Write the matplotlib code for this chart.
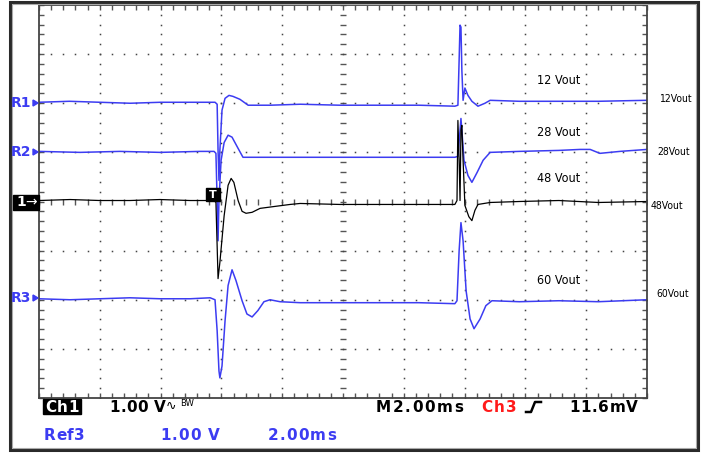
import numpy as np
import matplotlib
matplotlib.use('Agg')
import matplotlib.pyplot as plt
from matplotlib.patches import Rectangle

# ---- trace data: time in ms (2 ms/div), screen level in V (1 V/div)
r1_t = [0, 1.0, 2.0, 3.0, 4.0, 5.0, 5.79, 5.86, 5.89, 5.92, 5.95, 6.02, 6.12, 6.25, 6.38, 6.61, 6.88,
        7.6, 8.6, 9.9, 11.2, 12.5, 13.68, 13.78, 13.82, 13.85, 13.88, 13.91, 13.95, 14.01, 14.11,
        14.24, 14.44, 14.67, 14.84, 15.8, 17.1, 18.4, 20.0]
r1_v = [2.02, 2.04, 2.02, 2.0, 2.02, 2.02, 2.02, 1.98, 1.04, 0.43, 1.04, 1.86, 2.10, 2.16, 2.14, 2.08, 1.96,
        1.96, 1.98, 1.96, 1.96, 1.96, 1.94, 1.96, 2.88, 3.59, 3.55, 2.67, 2.06, 2.31, 2.16,
        2.04, 1.94, 2.0, 2.06, 2.04, 2.04, 2.04, 2.06]

r2_t = [0, 1.35, 2.66, 3.98, 5.30, 5.76, 5.82, 5.86, 5.89, 5.92, 5.99, 6.09, 6.22, 6.35, 6.55, 6.71,
        7.6, 8.6, 9.9, 11.2, 12.5, 13.68, 13.78, 13.85, 13.88, 13.91, 13.98, 14.11, 14.24, 14.41,
        14.61, 14.84, 15.8, 17.1, 17.8, 18.13, 18.45, 19.11, 20.0]
r2_v = [1.02, 1.00, 1.02, 1.00, 1.02, 1.02, 0.98, 0.02, -0.80, 0.02, 0.84, 1.20, 1.35, 1.31, 1.08, 0.90,
        0.90, 0.90, 0.90, 0.90, 0.90, 0.90, 0.92, 1.45, 1.69, 1.45, 0.84, 0.53, 0.39, 0.59,
        0.84, 1.00, 1.02, 1.04, 1.06, 1.06, 0.98, 1.02, 1.06]

ch1_t = [0, 1.02, 2.01, 2.99, 3.98, 4.97, 5.76, 5.82, 5.89, 5.95, 6.09, 6.22, 6.32, 6.41, 6.55, 6.68,
         6.81, 7.01, 7.27, 7.76, 8.26, 8.59, 9.9, 11.2, 12.5, 13.68, 13.75, 13.78, 13.82, 13.85,
         13.88, 13.91, 13.95, 14.01, 14.14, 14.24, 14.34, 14.44, 14.84, 15.8, 17.1, 18.4, 20.0]
ch1_v = [0.02, 0.04, 0.02, 0.02, 0.04, 0.02, 0.02, -0.02, -1.57, -1.24, -0.29, 0.33, 0.47, 0.39, 0.02, -0.20,
         -0.24, -0.22, -0.14, -0.10, -0.06, -0.04, -0.06, -0.06, -0.06, -0.06, 0.02, 1.65, 0.84, 0.02,
         1.45, 1.55, 0.84, -0.08, -0.31, -0.39, -0.18, -0.06, -0.02, 0.0, 0.02, -0.02, 0.0]

r3_t = [0, 1.02, 2.01, 2.99, 3.98, 4.97, 5.63, 5.79, 5.86, 5.92, 5.95, 6.02, 6.12, 6.22, 6.35, 6.48,
        6.68, 6.84, 7.01, 7.20, 7.40, 7.60, 7.93, 8.59, 9.9, 11.2, 12.5, 13.68, 13.75, 13.82,
        13.88, 13.95, 14.05, 14.18, 14.31, 14.51, 14.70, 14.90, 15.8, 17.1, 18.4, 20.0]
r3_v = [-1.98, -2.00, -1.98, -1.96, -1.98, -1.98, -1.96, -2.00, -2.63, -3.45, -3.59, -3.35, -2.43, -1.71,
        -1.39, -1.61, -2.02, -2.29, -2.35, -2.22, -2.04, -2.00, -2.04, -2.06, -2.06, -2.06, -2.06,
        -2.08, -2.02, -1.00, -0.43, -0.80, -1.82, -2.39, -2.59, -2.39, -2.12, -2.02, -2.04, -2.02,
        -2.04, -2.00]

labels_in = ['12 Vout', '28 Vout', '48 Vout', '60 Vout']
labels_out = ['12Vout', '28Vout', '48Vout', '60Vout']

BLUE = '#3c3cf2'
W, H = 707, 453
fig = plt.figure(figsize=(W / 100, H / 100), dpi=100)
fig.patch.set_facecolor('white')

# screen area (pixel box 39..647 x 5..398)
ax = fig.add_axes([39 / W, 1 - 398 / H, 608 / W, 393 / H])
ax.set_xlim(0, 20)
ax.set_ylim(-4, 4)
for s in ax.spines.values():
    s.set_color('#444444')
    s.set_linewidth(1.3)
ax.set_xticks(np.arange(0, 20.01, 2))
ax.set_yticks(np.arange(-4, 4.01, 1))
ax.set_xticks(np.arange(0, 20.01, 0.4), minor=True)
ax.set_yticks(np.arange(-4, 4.01, 0.2), minor=True)
ax.tick_params(which='both', direction='in', top=True, right=True, length=3.5,
               width=1, color='#555555', labelbottom=False, labelleft=False)

# graticule dots
ydots = np.arange(-4, 4.01, 0.2)
xdots = np.arange(0, 20.01, 0.4)
for gx in np.arange(2, 19, 2):
    if gx == 10:
        ax.plot(np.full_like(ydots, gx), ydots, ls='none', marker='_', ms=5, mew=1, color='#555555')
    else:
        ax.plot(np.full_like(ydots, gx), ydots, ls='none', marker='s', ms=1.1, mew=0, color='#444444')
for gy in np.arange(-3, 4, 1):
    if gy == 0:
        ax.plot(xdots, np.zeros_like(xdots), ls='none', marker='|', ms=5, mew=1, color='#555555')
    else:
        ax.plot(xdots, np.full_like(xdots, gy), ls='none', marker='s', ms=1.1, mew=0, color='#444444')

ax.plot(r1_t, r1_v, color=BLUE, lw=1.1)
ax.plot(r2_t, r2_v, color=BLUE, lw=1.1)
ax.plot(r3_t, r3_v, color=BLUE, lw=1.1)
ax.plot(ch1_t, ch1_v, color='black', lw=0.9)

# overlay in pixel coordinates for the frame and the readouts
ov = fig.add_axes([0, 0, 1, 1])
ov.set_xlim(0, W)
ov.set_ylim(H, 0)
ov.axis('off')
ov.set_zorder(5)
ov.add_patch(Rectangle((10, 2), 688, 448, fill=False, ec='#2a2a2a', lw=2.2))
ov.add_patch(Rectangle((12, 4), 684, 444, fill=False, ec='#aaaaaa', lw=0.8))

rend = fig.canvas.get_renderer()


def adv(c, **kw):
    # advance width of one character, measured between two bars
    a = ov.text(0, 0, '|' + c + '|', **kw)
    b = ov.text(0, 0, '||', **kw)
    w = a.get_window_extent(rend).width - b.get_window_extent(rend).width
    a.remove()
    b.remove()
    return w


def spaced(x0, x1, y, s, **kw):
    ws = [adv(c, **kw) for c in s]
    gap = (x1 - x0 - sum(ws)) / max(len(s) - 1, 1)
    x = x0
    for c, w in zip(s, ws):
        ov.text(x, y, c, va='center', ha='left', **kw)
        x += w + gap


bold = dict(family='DejaVu Sans', fontweight='bold', fontsize=11)
bold10 = dict(family='DejaVu Sans', fontweight='bold', fontsize=10)

# left reference markers
for name, y in [('R1', 103), ('R2', 152), ('R3', 298)]:
    ov.text(11, y, name, color=BLUE, va='center', ha='left', **bold10)
    ov.fill([33, 33, 38], [y - 3, y + 3, y], color=BLUE)
ov.add_patch(Rectangle((13, 195), 26, 15, color='black'))
ov.text(16, 202.5, '1', color='white', va='center', ha='left', **bold10)
ov.text(25, 202, '→', color='white', va='center', ha='left', family='DejaVu Sans', fontsize=10)

# trigger marker
ov.add_patch(Rectangle((206, 188), 14, 13, color='black'))
ov.text(213, 194.5, 'T', color='white', va='center', ha='center', family='DejaVu Sans',
        fontweight='bold', fontsize=8)

for lab, y in zip(labels_in, [80, 132, 178, 280]):
    ov.text(537, y, lab, va='center', ha='left', family='DejaVu Sans',
            fontstretch='condensed', fontsize=9)
for lab, x, y in zip(labels_out, [659, 657, 651, 656], [99, 152, 206, 294]):
    ov.text(x, y, lab, va='center', ha='left', family='DejaVu Sans',
            fontstretch='condensed', fontsize=7.5)

# readout lines
ov.add_patch(Rectangle((43, 399), 38, 15, color='black'))
spaced(45, 79, 407, 'Ch1', color='white', **bold)
spaced(109, 166, 407, '1.00 V', color='black', **bold)
ov.text(166, 406, '∿', va='center', ha='left', family='DejaVu Sans', fontsize=9)
ov.text(180, 404, 'BW', va='center', ha='left', family='DejaVu Sans', fontsize=6)
spaced(376, 463, 407, 'M2.00ms', color='black', **bold)
spaced(481, 517, 407, 'Ch3', color='#ff1a1a', **bold)
ov.plot([526, 531, 535, 541], [412, 412, 402, 402], color='black', lw=1.8)
spaced(569, 638, 407, '11.6mV', color='black', **bold)

spaced(44, 85, 435, 'Ref3', color=BLUE, **bold)
spaced(160, 220, 435, '1.00 V', color=BLUE, **bold)
spaced(268, 336, 435, '2.00ms', color=BLUE, **bold)

plt.savefig('out.png', dpi=100)
